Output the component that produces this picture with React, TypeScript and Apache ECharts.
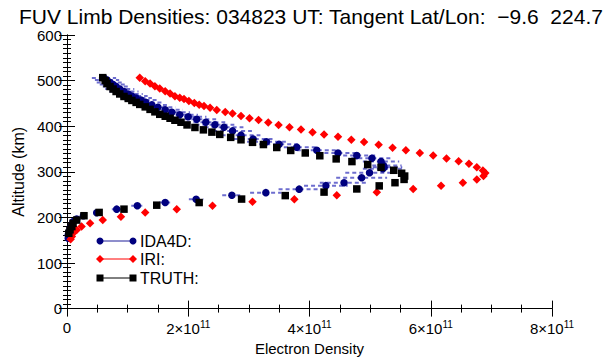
import React, { useEffect, useRef } from 'react';
import * as echarts from 'echarts';

const titleText = 'FUV Limb Densities: 034823 UT: Tangent Lat/Lon:  \u22129.6  224.7';
const xAxisName = 'Electron Density';
const yAxisName = 'Altitude (km)';
const legendNames = ['IDA4D:', 'IRI:', 'TRUTH:'];

// Electron density in units of 1e11 (axis labels show "n×10^11")
const ida4dDensity = [
  0.61, 0.66, 0.71, 0.76, 0.81, 0.87, 0.94, 1.01, 1.07, 1.14, 1.22, 1.30, 1.40, 1.50, 1.62, 1.73,
  1.86, 2.0, 2.14, 2.29, 2.44, 2.59, 2.73, 2.87, 3.07, 3.29, 3.50, 3.79, 4.12, 4.47, 4.78, 5.03,
  5.18, 5.22, 5.23, 5.21, 4.99, 4.86, 4.57, 4.27, 3.83, 3.28, 2.72, 2.13, 1.62, 1.16, 0.82, 0.49,
  0.27, 0.16, 0.10, 0.08, 0.05, 0.04, 0.02, 0.02,
];
const ida4dAltitude = [
  505.5, 501.1, 495.7, 491.3, 487.0, 481.5, 476.1, 470.7, 466.3, 462.0, 457.6, 452.2, 446.7, 441.3,
  435.9, 430.4, 425.0, 420.7, 415.2, 408.7, 403.2, 397.8, 389.7, 380.4, 371.8, 365.9, 360.2, 353.7,
  347.2, 341.3, 335.5, 329.8, 322.4, 313.7, 309.8, 306.5, 297.8, 287.0, 276.1, 269.6, 262.0, 254.3,
  248.5, 239.8, 232.6, 225.4, 218.1, 210.2, 203.7, 196.3, 190.7, 183.3, 176.1, 168.9, 161.5, 154.3,
];
const ida4dError = [
  0.2, 0.2, 0.22, 0.22, 0.22, 0.24, 0.24, 0.24, 0.26, 0.26, 0.27, 0.27, 0.28, 0.29, 0.29, 0.3,
  0.3, 0.3, 0.32, 0.32, 0.32, 0.32, 0.32, 0.32, 0.32, 0.32, 0.33, 0.33, 0.33, 0.34, 0.34, 0.34,
  0.3, 0.3, 0.3, 0.33, 0.4, 0.42, 0.4, 0.36, 0.34, 0.26, 0.16, 0.12, 0.1, 0.1, 0.08, 0.06,
  0.05, 0.04, 0.03, 0.03, 0.02, 0.02, 0.01, 0.01,
];

const iriDensity = [
  1.20, 1.29, 1.37, 1.45, 1.53, 1.62, 1.70, 1.78, 1.86, 1.93, 2.01, 2.10, 2.18, 2.26, 2.36, 2.47,
  2.61, 2.73, 2.87, 3.01, 3.16, 3.32, 3.49, 3.67, 3.86, 4.05, 4.24, 4.47, 4.69, 4.90, 5.14, 5.37,
  5.59, 5.82, 6.04, 6.26, 6.46, 6.63, 6.76, 6.86, 6.90, 6.87, 6.76, 6.53, 6.17, 5.71, 5.11, 4.45,
  3.75, 3.06, 2.40, 1.81, 1.29, 0.89, 0.59, 0.38, 0.24, 0.16, 0.10, 0.08, 0.06,
];
const iriAltitude = [
  506, 498.5, 493.5, 487.6, 482.6, 476.7, 471.7, 465.9, 462.4, 459.4, 455, 450.7, 447.2, 444.1,
  440.7, 435.5, 431.1, 427.6, 422.4, 417.4, 413.7, 408.1, 402.8, 397.8, 392.9, 387, 382, 376.8,
  370.2, 365.2, 359.4, 352.8, 347.2, 341.3, 335.5, 328.9, 323.3, 317.4, 310.2, 302.8, 297.2, 290.7,
  283.3, 276.1, 269.6, 262.4, 255, 248.5, 239.8, 234.1, 225.4, 218.1, 210.9, 201.5, 194.1, 187,
  179.8, 172.4, 165.2, 158, 152,
];

const truthDensity = [
  0.59, 0.63, 0.66, 0.71, 0.76, 0.81, 0.87, 0.94, 1.01, 1.07, 1.14, 1.20, 1.29, 1.37, 1.45, 1.53,
  1.62, 1.70, 1.78, 1.88, 1.98, 2.11, 2.25, 2.39, 2.52, 2.70, 2.87, 3.06, 3.24, 3.46, 3.69, 3.93,
  4.17, 4.44, 4.70, 4.96, 5.18, 5.39, 5.52, 5.57, 5.56, 5.41, 5.15, 4.78, 4.24, 3.60, 2.88, 2.18,
  1.48, 0.94, 0.53, 0.28, 0.16, 0.10, 0.08, 0.05, 0.03,
];
const truthAltitude = [
  506.5, 500, 493.5, 487, 481.5, 476.1, 470.7, 465.2, 460.9, 456.5, 452.2, 447.8, 442.4, 436.9,
  431.5, 426.1, 421.8, 417.4, 413, 408.7, 402.8, 397.2, 392, 387, 382, 375.5, 370.2, 364.6, 359.8,
  353.3, 346.8, 341.3, 335.2, 328.3, 322.4, 315.9, 309.8, 303.3, 296.8, 290.7, 283.3, 276.1, 269.1,
  262.4, 255.5, 247.8, 240.2, 232.6, 226.8, 218.1, 210.9, 203.7, 194.1, 187, 179.8, 172.8, 165.2,
];

const FONT = "'Liberation Sans', Arial, Helvetica, sans-serif";

export default function App() {
  const ref = useRef<HTMLDivElement>(null);
  useEffect(() => {
    document.body.style.margin = '0';
    const chart = echarts.init(ref.current!, null, { renderer: 'svg' });

    const gridLeft = 67;
    const gridTop = 35;
    const gridRight = 55;
    const gridBottom = 50;

    const tickCommon = {
      axisLine: { show: true, lineStyle: { color: '#000', width: 1 } },
      axisTick: { show: true, inside: true, length: 8, lineStyle: { color: '#000', width: 1 } },
      minorTick: { show: true, length: 4, lineStyle: { color: '#000', width: 1 } },
      splitLine: { show: false },
      minorSplitLine: { show: false },
    };

    const xBase = { type: 'value', min: 0, max: 8, interval: 2, ...tickCommon };
    const yBase = { type: 'value', min: 0, max: 600, interval: 100, ...tickCommon };

    const legendY = [241, 259, 278];
    const lx1 = 100;
    const lx2 = 133;
    const legendGraphic: any[] = [];
    const colors = ['#1f1f9a', '#ff0000', '#000000'];
    legendNames.forEach((name, i) => {
      const y = legendY[i];
      legendGraphic.push({
        type: 'line',
        shape: { x1: lx1, y1: y, x2: lx2, y2: y },
        style: { stroke: colors[i], lineWidth: 1 },
      });
      [lx1, lx2].forEach((x) => {
        if (i === 0) {
          legendGraphic.push({ type: 'circle', shape: { cx: x, cy: y, r: 3.5 }, style: { fill: '#00007f' } });
        } else if (i === 1) {
          legendGraphic.push({
            type: 'polygon',
            shape: { points: [[x, y - 4], [x + 4, y], [x, y + 4], [x - 4, y]] },
            style: { fill: '#ff0000' },
          });
        } else {
          legendGraphic.push({ type: 'rect', shape: { x: x - 3.5, y: y - 3.5, width: 7, height: 7 }, style: { fill: '#000' } });
        }
      });
      legendGraphic.push({
        type: 'text',
        x: 140,
        y,
        style: { text: name, fill: '#000', font: `16px ${FONT}`, textVerticalAlign: 'middle', verticalAlign: 'middle' },
      });
    });

    const option: any = {
      animation: false,
      backgroundColor: '#fff',
      textStyle: { fontFamily: FONT },
      title: {
        text: titleText,
        left: 14,
        top: 1,
        textStyle: { fontSize: 21, fontWeight: 'normal', color: '#000', fontFamily: FONT },
      },
      grid: { left: gridLeft, right: gridRight, top: gridTop, bottom: gridBottom },
      xAxis: [
        {
          ...xBase,
          position: 'bottom',
          name: xAxisName,
          nameLocation: 'middle',
          nameGap: 29,
          nameTextStyle: { fontSize: 15, color: '#000', fontFamily: FONT },
          minorTick: { ...tickCommon.minorTick, splitNumber: 4 },
          axisLabel: {
            show: true,
            margin: 11,
            color: '#000',
            fontSize: 15,
            fontFamily: FONT,
            formatter: (v: number) => (v === 0 ? '0' : `{m|${v}\u00d710}{s|11}`),
            rich: {
              m: { fontSize: 15, fontFamily: FONT, color: '#000' },
              s: { fontSize: 10, fontFamily: FONT, color: '#000', padding: [0, 0, 8, 0] },
            },
          },
        },
        {
          ...xBase,
          position: 'top',
          minorTick: { ...tickCommon.minorTick, splitNumber: 4 },
          axisLabel: { show: false },
        },
      ],
      yAxis: [
        {
          ...yBase,
          position: 'left',
          name: yAxisName,
          nameLocation: 'middle',
          nameGap: 40,
          nameRotate: 90,
          nameTextStyle: { fontSize: 16, color: '#000', fontFamily: FONT },
          minorTick: { ...tickCommon.minorTick, splitNumber: 10 },
          axisLabel: { show: true, margin: 5, color: '#000', fontSize: 15, fontFamily: FONT },
        },
        {
          ...yBase,
          position: 'right',
          minorTick: { ...tickCommon.minorTick, splitNumber: 10 },
          axisLabel: { show: false },
        },
      ],
      graphic: legendGraphic,
      series: [
        {
          type: 'custom',
          name: 'IDA4D error',
          xAxisIndex: 0,
          yAxisIndex: 0,
          clip: true,
          data: ida4dDensity.map((d, i) => [d, ida4dAltitude[i], ida4dError[i]]),
          encode: { x: 0, y: 1 },
          renderItem: (params: any, api: any) => {
            const x = api.value(0);
            const y = api.value(1);
            const e = api.value(2);
            const p1 = api.coord([Math.max(0, x - e), y]);
            const p2 = api.coord([x + e, y]);
            return {
              type: 'line',
              shape: { x1: p1[0], y1: p1[1], x2: p2[0], y2: p2[1] },
              style: { stroke: 'rgba(60,60,190,0.75)', lineWidth: 2, lineDash: [4, 3] },
            };
          },
          z: 1,
        },
        {
          type: 'scatter',
          name: 'IDA4D',
          xAxisIndex: 0,
          yAxisIndex: 0,
          data: ida4dDensity.map((d, i) => [d, ida4dAltitude[i]]),
          symbol: 'circle',
          symbolSize: 7.5,
          itemStyle: { color: '#00007f', opacity: 1 },
          z: 2,
        },
        {
          type: 'scatter',
          name: 'IRI',
          xAxisIndex: 0,
          yAxisIndex: 0,
          data: iriDensity.map((d, i) => [d, iriAltitude[i]]),
          symbol: 'diamond',
          symbolSize: 8.5,
          itemStyle: { color: '#ff0000', opacity: 1 },
          z: 3,
        },
        {
          type: 'scatter',
          name: 'TRUTH',
          xAxisIndex: 0,
          yAxisIndex: 0,
          data: truthDensity.map((d, i) => [d, truthAltitude[i]]),
          symbol: 'rect',
          symbolSize: 7.5,
          itemStyle: { color: '#000000', opacity: 1 },
          z: 4,
        },
      ],
    };
    chart.setOption(option);
    return () => chart.dispose();
  }, []);
  return <div ref={ref} style={{ width: 607, height: 361, background: '#fff' }} />;
}
